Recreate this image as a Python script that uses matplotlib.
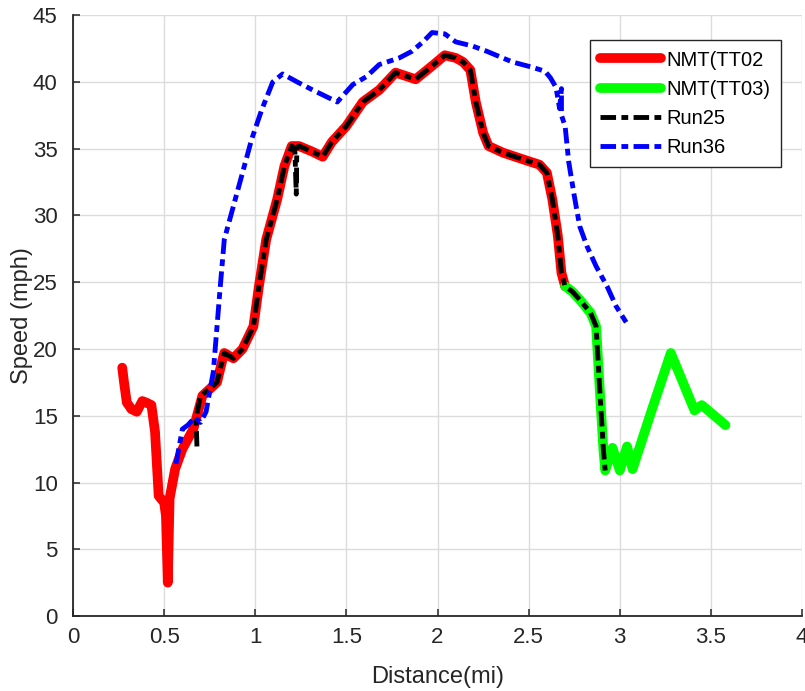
import matplotlib
matplotlib.use("Agg")
import matplotlib.pyplot as plt

plt.rcParams['font.family'] = ['Liberation Sans', 'DejaVu Sans']

# NMT segment TT02 (distance in mi, speed in mph)
tt02_x = [0.27, 0.28, 0.295, 0.32, 0.35, 0.38, 0.40, 0.43, 0.45, 0.47, 0.50, 0.51, 0.52,
          0.53, 0.56, 0.60, 0.66, 0.68, 0.71, 0.75, 0.79, 0.82, 0.83, 0.88, 0.93, 0.99,
          1.02, 1.06, 1.12, 1.16, 1.20, 1.24, 1.31, 1.37, 1.42, 1.50, 1.59, 1.68, 1.77,
          1.88, 1.97, 2.04, 2.10, 2.14, 2.18, 2.21, 2.25, 2.28, 2.36, 2.47, 2.56, 2.60,
          2.63, 2.66, 2.68, 2.70]
tt02_y = [18.6, 17.5, 16.0, 15.5, 15.3, 16.1, 16.0, 15.8, 13.8, 9.0, 8.5, 7.5, 2.5,
          8.8, 11.0, 12.5, 14.0, 15.0, 16.5, 17.0, 17.5, 19.2, 19.7, 19.3, 20.0, 21.7,
          24.7, 28.2, 31.2, 33.7, 35.2, 35.2, 34.8, 34.4, 35.5, 36.7, 38.5, 39.4, 40.7,
          40.2, 41.2, 42.0, 41.8, 41.5, 40.9, 38.5, 36.2, 35.2, 34.7, 34.2, 33.8, 33.2,
          31.2, 28.5, 25.7, 24.7]

# NMT segment TT03
tt03_x = [2.70, 2.74, 2.78, 2.84, 2.87, 2.89, 2.91, 2.92, 2.96, 3.00, 3.04, 3.07,
          3.17, 3.28, 3.41, 3.45, 3.58]
tt03_y = [24.7, 24.3, 23.7, 22.7, 21.7, 17.0, 12.5, 10.9, 12.6, 10.9, 12.7, 11.0,
          15.2, 19.7, 15.4, 15.8, 14.3]

# simulation run 25
run25_x = [0.68, 0.675, 0.70, 0.75, 0.79, 0.82, 0.83, 0.88, 0.93, 0.99, 1.02, 1.06,
           1.12, 1.16, 1.20, 1.217, 1.225, 1.228, 1.24, 1.31, 1.37, 1.42, 1.50, 1.59,
           1.68, 1.77, 1.88, 1.97, 2.04, 2.10, 2.14, 2.18, 2.21, 2.25, 2.28, 2.36,
           2.47, 2.56, 2.60, 2.63, 2.66, 2.68, 2.70, 2.74, 2.78, 2.84, 2.87, 2.89,
           2.91, 2.92]
run25_y = [12.7, 14.8, 16.5, 17.0, 17.5, 19.2, 19.7, 19.3, 20.0, 21.7, 24.7, 28.2,
           31.2, 33.7, 35.2, 35.0, 31.6, 35.1, 35.2, 34.8, 34.4, 35.5, 36.7, 38.5,
           39.4, 40.7, 40.2, 41.2, 42.0, 41.8, 41.5, 40.9, 38.5, 36.2, 35.2, 34.7,
           34.2, 33.8, 33.2, 31.2, 28.5, 25.7, 24.7, 24.3, 23.7, 22.7, 21.7, 17.0,
           12.5, 10.9]

# simulation run 36
run36_x = [0.565, 0.60, 0.63, 0.67, 0.70, 0.73, 0.77, 0.805, 0.83, 0.88, 0.93, 0.98,
           1.035, 1.096, 1.15, 1.23, 1.315, 1.39, 1.45, 1.535, 1.61, 1.68, 1.79, 1.86,
           1.92, 1.97, 2.04, 2.10, 2.19, 2.27, 2.34, 2.41, 2.52, 2.59, 2.62, 2.65,
           2.67, 2.68, 2.68, 2.70, 2.72, 2.75, 2.78, 2.82, 2.87, 2.93, 2.98, 3.035]
run36_y = [11.4, 14.0, 14.3, 14.9, 14.5, 15.3, 18.3, 24.2, 28.2, 30.7, 33.2, 35.7,
           37.9, 40.0, 40.6, 40.0, 39.4, 38.9, 38.5, 39.8, 40.4, 41.3, 41.8, 42.3,
           43.0, 43.7, 43.6, 43.0, 42.7, 42.3, 41.9, 41.5, 41.1, 40.8, 40.3, 39.6,
           38.0, 39.5, 37.5, 36.7, 34.0, 31.5, 29.2, 27.7, 26.2, 24.7, 23.2, 22.0]

fig = plt.figure(figsize=(8.05, 6.91), dpi=100)
ax = fig.add_axes([0.0907, 0.1085, 0.9056, 0.8695])

ax.plot(tt02_x, tt02_y, color='#ff0000', lw=7, solid_joinstyle='round',
        solid_capstyle='round', label='NMT(TT02')
ax.plot(tt03_x, tt03_y, color='#00ff00', lw=7, solid_joinstyle='round',
        solid_capstyle='round', label='NMT(TT03)')
ax.plot(run25_x, run25_y, color='black', lw=3.5, dashes=(3.2, 1.1, 1.4, 1.1),
        label='Run25')
ax.plot(run36_x, run36_y, color='#0000ff', lw=3.5, dashes=(3.2, 1.1, 1.4, 1.1),
        label='Run36')

ax.set_xlim(0, 4)
ax.set_ylim(0, 45)
ax.set_xticks([0, 0.5, 1, 1.5, 2, 2.5, 3, 3.5, 4])
ax.set_xticklabels(['0', '0.5', '1', '1.5', '2', '2.5', '3', '3.5', '4'])
ax.set_yticks(range(0, 46, 5))

ax.grid(True, color='#dcdcdc', lw=1)
ax.set_axisbelow(True)
ax.spines['top'].set_visible(False)
ax.spines['right'].set_visible(False)
for s in ('left', 'bottom'):
    ax.spines[s].set_color('#262626')
    ax.spines[s].set_linewidth(1.3)
ax.tick_params(direction='in', length=5, width=1.1, color='#262626',
               labelsize=16, labelcolor='#262626')
ax.tick_params(axis='x', pad=8)
ax.tick_params(axis='y', pad=11)

ax.set_xlabel('Distance(mi)', fontsize=17, color='#262626', labelpad=13)
ax.set_ylabel('Speed (mph)', fontsize=17, color='#262626', labelpad=0)

leg = ax.legend(loc='upper right', bbox_to_anchor=(0.971, 0.958), fontsize=14.5,
                fancybox=False, framealpha=1, edgecolor='#262626',
                handlelength=3.0, borderpad=0.5, labelspacing=0.5,
                handletextpad=0.3, borderaxespad=0)
leg.get_frame().set_linewidth(1)

fig.savefig('out.png', dpi=100)
